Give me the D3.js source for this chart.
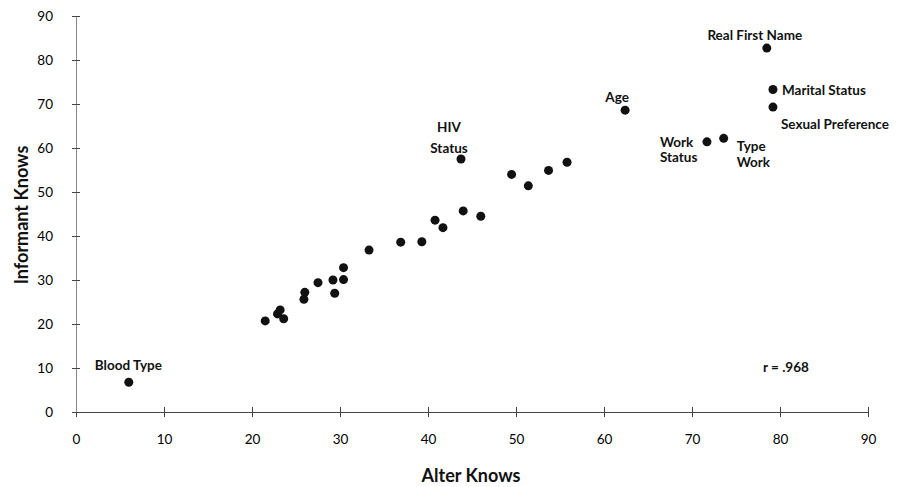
<!DOCTYPE html>
<html>
<head>
<meta charset="utf-8">
<script src="https://cdn.jsdelivr.net/npm/d3@7"></script>
<style>
  body { margin: 0; background: #fff; }
  svg { display: block; }
  text { font-family: Lato, "Open Sans", sans-serif; fill: #111; }
</style>
</head>
<body>
<svg id="chart"></svg>
<script>
// what the alter knows vs what the informant knows (percent)
const names = ['Blood Type',
  '', '', '', '', '', '', '', '', '', '', '', '',
  '', '', '', '', '', '', 'HIV Status', '', '', '', '',
  'Age', 'Work Status', 'Type Work', 'Real First Name', 'Marital Status', 'Sexual Preference']
const alterKnows = [6.0,
  21.5, 22.9, 23.2, 23.6, 25.9, 26.0, 27.5, 29.2, 29.4, 30.4, 30.4, 33.3,
  36.9, 39.3, 40.8, 41.7, 44.0, 46.0, 43.75, 49.5, 51.4, 53.7, 55.8,
  62.4, 71.7, 73.6, 78.5, 79.2, 79.2]
const informantKnows = [6.75,
  20.7, 22.3, 23.2, 21.2, 25.6, 27.2, 29.4, 30.0, 27.0, 30.1, 32.8, 36.8,
  38.6, 38.7, 43.6, 41.9, 45.7, 44.5, 57.5, 54.0, 51.4, 54.9, 56.75,
  68.6, 61.4, 62.2, 82.7, 73.3, 69.3]
const tickValues = [0, 10, 20, 30, 40, 50, 60, 70, 80, 90]
const rLabel = 'r = .968'

const width = 909, height = 487
const svg = d3.select('#chart').attr('width', width).attr('height', height)

const x = d3.scaleLinear().domain([0, 90]).range([76, 868])
const y = d3.scaleLinear().domain([0, 90]).range([412, 16])

// x axis, ticks cross the line
const gx = svg.append('g')
  .attr('transform', 'translate(0,' + y(0) + ')')
  .call(d3.axisBottom(x).tickValues(tickValues).tickSizeOuter(0))
gx.select('.domain').attr('stroke', '#444').attr('stroke-width', 1)
gx.selectAll('.tick line').attr('y1', -5).attr('y2', 5).attr('stroke', '#444')
gx.selectAll('.tick text').attr('y', 32).attr('dy', 0)
  .style('font-size', '13.5px').style('fill', '#000')

// y axis
const gy = svg.append('g')
  .attr('transform', 'translate(' + x(0) + ',0)')
  .call(d3.axisLeft(y).tickValues(tickValues).tickSizeOuter(0))
gy.select('.domain').attr('stroke', '#888').attr('stroke-width', 1)
gy.selectAll('.tick line').attr('x1', -4).attr('x2', 4).attr('stroke', '#444')
gy.selectAll('.tick text').attr('x', -23)
  .style('font-size', '13.5px').style('fill', '#000')
svg.selectAll('.domain, .tick line').attr('shape-rendering', 'crispEdges')
svg.selectAll('.tick text').attr('font-family', null)

// axis titles
svg.append('text')
  .attr('x', 471).attr('y', 482)
  .attr('text-anchor', 'middle')
  .style('font-size', '18px').style('font-weight', 700)
  .text('Alter Knows')

svg.append('text')
  .attr('transform', 'translate(28,215) rotate(-90)')
  .attr('text-anchor', 'middle')
  .style('font-size', '18px').style('font-weight', 700)
  .text('Informant Knows')

// dots
const pts = names.map((n, i) => ({ name: n, a: alterKnows[i], b: informantKnows[i] }))
svg.append('g')
  .selectAll('circle')
  .data(pts)
  .enter()
  .append('circle')
  .attr('cx', d => x(d.a))
  .attr('cy', d => y(d.b))
  .attr('r', 4.5)
  .style('fill', '#111')

// label placement: [dx, dy of first baseline, anchor, line gap]
const place = {
  'Blood Type': [-34, -12, 'start'],
  'HIV Status': [-12, -27, 'middle', 21],
  'Age': [-8, -8, 'middle'],
  'Work Status': [-47, 5, 'start', 15],
  'Type Work': [13, 13, 'start', 16],
  'Real First Name': [-12, -8, 'middle'],
  'Marital Status': [9, 6, 'start'],
  'Sexual Preference': [8, 22, 'start']
}
const labelled = pts.filter(d => d.name !== '')
labelled.forEach(d => {
  const p = place[d.name]
  const lines = p[3] ? d.name.split(' ') : [d.name]
  const t = svg.append('text')
    .attr('text-anchor', p[2])
    .style('font-size', '13.5px').style('font-weight', 700)
  lines.forEach((ln, j) => {
    t.append('tspan')
      .attr('x', x(d.a) + p[0])
      .attr('y', y(d.b) + p[1] + j * (p[3] || 0))
      .text(ln)
  })
})

svg.append('text')
  .attr('x', 763).attr('y', 372)
  .style('font-size', '13.5px').style('font-weight', 700)
  .text(rLabel)
</script>
</body>
</html>
